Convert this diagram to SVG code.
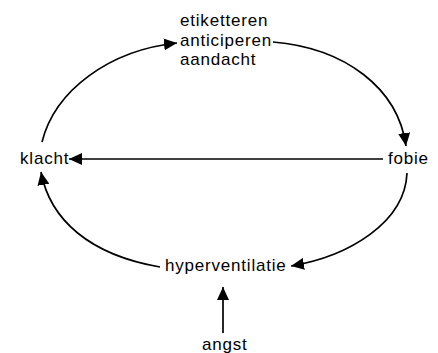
<svg xmlns="http://www.w3.org/2000/svg" width="438" height="353" viewBox="0 0 438 353">
<style>
text{font-family:"Liberation Sans",Arial,sans-serif;font-size:17px;letter-spacing:0.8px;fill:#000}
.c{fill:none;stroke:#000;stroke-width:1.7}
</style>
<defs>
<marker id="a" markerUnits="userSpaceOnUse" markerWidth="14" markerHeight="12" refX="13" refY="6" orient="auto">
<path d="M0,0 L13,6 L0,12 z" fill="#000"/>
</marker>
</defs>
<rect width="438" height="353" fill="#fff"/>
<g id="connectors">
<path class="c" d="M42,142 C55,90 110,50 177,43" marker-end="url(#a)"/>
<path class="c" d="M273,42 C345,48 398,88 406,146" marker-end="url(#a)"/>
<path class="c" d="M383,159 L69,159" stroke-width="1.3" marker-end="url(#a)"/>
<path class="c" d="M407,173 C405,222 350,256 291,266" marker-end="url(#a)"/>
<path class="c" d="M160,267 C90,255 50,220 41,172" marker-end="url(#a)"/>
<path class="c" d="M223,333 L223,287" marker-end="url(#a)"/>
</g>
<g id="top"><text x="180" y="26">etiketteren</text><text x="180" y="46">anticiperen</text><text x="180" y="65">aandacht</text></g>
<g id="klacht"><text x="20" y="164">klacht</text></g>
<g id="fobie"><text x="388" y="164">fobie</text></g>
<g id="hyperventilatie"><text x="165" y="271">hyperventilatie</text></g>
<g id="angst"><text x="202" y="350">angst</text></g>
</svg>
